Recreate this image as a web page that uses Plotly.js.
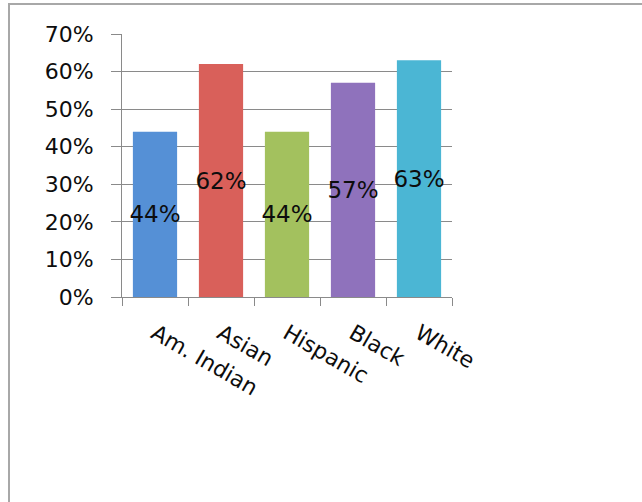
<!DOCTYPE html>
<html>
<head>
<meta charset="utf-8">
<script src="https://cdn.plot.ly/plotly-3.0.1.min.js"></script>
<style>
  html, body { margin: 0; padding: 0; background: #ffffff; }
  #wrap { position: relative; width: 642px; height: 502px; overflow: hidden; }
  #chart { position: absolute; left: 0; top: 0; width: 642px; height: 502px; }
  #frame {
    position: absolute; left: 8px; top: 3px; right: -10px; bottom: -10px;
    border-top: 2px solid #a8a8a8; border-left: 2px solid #a8a8a8;
    pointer-events: none;
  }
</style>
</head>
<body>
<div id="wrap">
  <div id="chart"></div>
  <div id="frame"></div>
</div>
<script>
// Share of each group, one bar per group
const groups = ["Am. Indian", "Asian", "Hispanic", "Black", "White"];
const shares = [0.44, 0.62, 0.44, 0.57, 0.63];
const barColors = ["#5590D6", "#D9605A", "#A3C15E", "#8F72BC", "#4BB6D4"];

const valueLabels = shares.map(v => Math.round(v * 100) + "%");

const font = "DejaVu Sans, sans-serif";

const trace = {
  type: "bar",
  x: groups,
  y: shares,
  marker: { color: barColors, line: { width: 0 } },
  text: valueLabels,
  textposition: "inside",
  insidetextanchor: "middle",
  constraintext: "none",
  textangle: 0,
  textfont: { family: font, size: 23, color: "#0d0d0d" },
  hoverinfo: "skip"
};

const layout = {
  width: 642,
  height: 502,
  margin: { l: 122, r: 190, t: 34, b: 205 },
  paper_bgcolor: "#ffffff",
  plot_bgcolor: "#ffffff",
  showlegend: false,
  bargap: 0.33,
  font: { family: font, size: 22, color: "#0d0d0d" },
  xaxis: {
    type: "category",
    tickson: "boundaries",
    ticks: "outside",
    ticklen: 8,
    tickcolor: "#8a8a8a",
    tickwidth: 1,
    tickangle: 30,
    showline: true,
    linecolor: "#8a8a8a",
    linewidth: 1,
    showgrid: false,
    ticklabelstandoff: 14,
    tickfont: { family: font, size: 22, color: "#0d0d0d" }
  },
  yaxis: {
    range: [0, 0.7],
    dtick: 0.1,
    tickformat: ".0%",
    ticks: "outside",
    ticklen: 10,
    tickcolor: "#8a8a8a",
    tickwidth: 1,
    showline: true,
    linecolor: "#8a8a8a",
    linewidth: 1,
    showgrid: true,
    gridcolor: "#8a8a8a",
    gridwidth: 1,
    zeroline: false,
    ticklabelstandoff: 13,
    tickfont: { family: font, size: 22, color: "#0d0d0d" }
  }
};

Plotly.newPlot("chart", [trace], layout, { staticPlot: true, displayModeBar: false });
</script>
</body>
</html>
